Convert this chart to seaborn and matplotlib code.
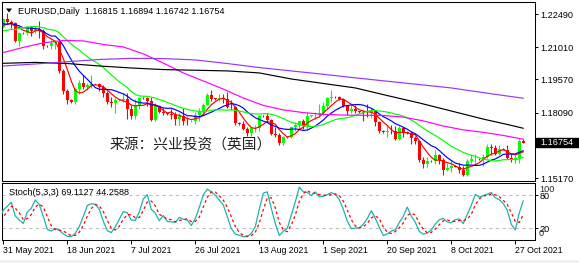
import numpy as np
import pandas as pd
import matplotlib
matplotlib.use("Agg")
import matplotlib.pyplot as plt
import matplotlib.transforms as mtransforms
from matplotlib.patches import Rectangle, Polygon
import seaborn as sns

# ---------------- data ----------------
symbol = "EURUSD,Daily"
first_day, last_day = "2021-05-09", "2021-10-29"   # daily bars incl. Sunday sessions (no Saturdays)
first_visible = "2021-05-31"

# one row per week: Sun, Mon, Tue, Wed, Thu, Fri
opens = [
    1.2165, 1.2162, 1.2130, 1.2150, 1.2075, 1.2080,
    1.2145, 1.2143, 1.2155, 1.2225, 1.2175, 1.2225,
    1.2180, 1.2185, 1.2215, 1.2250, 1.2192, 1.2193,
    1.2192, 1.2191, 1.2226, 1.2213, 1.2210, 1.2127,
    1.2166, 1.2163, 1.2190, 1.2172, 1.2180, 1.2175,
    1.2108, 1.2105, 1.2121, 1.2125, 1.1995, 1.1906,
    1.1863, 1.1858, 1.1915, 1.1940, 1.1925, 1.1930,
    1.1935, 1.1937, 1.1925, 1.1895, 1.1858, 1.1850,
    1.1865, 1.1866, 1.1868, 1.1823, 1.1792, 1.1845,
    1.1875, 1.1872, 1.1861, 1.1775, 1.1838, 1.1812,
    1.1806, 1.1803, 1.1800, 1.1780, 1.1795, 1.1771,
    1.1770, 1.1772, 1.1800, 1.1817, 1.1843, 1.1888,
    1.1871, 1.1870, 1.1872, 1.1868, 1.1835, 1.1832,
    1.1762, 1.1758, 1.1735, 1.1718, 1.1738, 1.1742,
    1.1795, 1.1792, 1.1778, 1.1712, 1.1710, 1.1675,
    1.1700, 1.1698, 1.1745, 1.1755, 1.1770, 1.1750,
    1.1795, 1.1797, 1.1800, 1.1808, 1.1838, 1.1875,
    1.1880, 1.1878, 1.1870, 1.1840, 1.1818, 1.1825,
    1.1814, 1.1812, 1.1808, 1.1805, 1.1815, 1.1765,
    1.1725, 1.1722, 1.1728, 1.1725, 1.1690, 1.1740,
    1.1720, 1.1718, 1.1695, 1.1683, 1.1597, 1.1580,
    1.1595, 1.1592, 1.1620, 1.1598, 1.1555, 1.1562,
    1.1570, 1.1568, 1.1553, 1.1530, 1.1595, 1.1600,
    1.1602, 1.1600, 1.1610, 1.1655, 1.1652, 1.1625,
    1.1645, 1.1643, 1.1608, 1.1600, 1.1605, 1.16815,
]
highs = [
    1.2170, 1.2180, 1.2180, 1.2160, 1.2100, 1.2150,
    1.2150, 1.2165, 1.2245, 1.2245, 1.2230, 1.2235,
    1.2190, 1.2225, 1.2265, 1.2260, 1.2225, 1.2200,
    1.2195, 1.2233, 1.2254, 1.2223, 1.2213, 1.2170,
    1.2170, 1.2194, 1.2197, 1.2195, 1.2218, 1.2183,
    1.2112, 1.2133, 1.2131, 1.2138, 1.2004, 1.1913,
    1.1868, 1.1918, 1.1954, 1.1975, 1.1940, 1.1975,
    1.1940, 1.1940, 1.1930, 1.1905, 1.1880, 1.1875,
    1.1870, 1.1895, 1.1895, 1.1843, 1.1868, 1.1880,
    1.1880, 1.1880, 1.1880, 1.1850, 1.1845, 1.1828,
    1.1810, 1.1826, 1.1812, 1.1805, 1.1828, 1.1791,
    1.1775, 1.1810, 1.1830, 1.1850, 1.1895, 1.1909,
    1.1875, 1.1892, 1.1892, 1.1900, 1.1865, 1.1838,
    1.1765, 1.1770, 1.1745, 1.1740, 1.1754, 1.1800,
    1.1798, 1.1805, 1.1780, 1.1745, 1.1720, 1.1705,
    1.1705, 1.1750, 1.1765, 1.1770, 1.1780, 1.1810,
    1.1800, 1.1810, 1.1846, 1.1857, 1.1880, 1.1909,
    1.1885, 1.1883, 1.1875, 1.1845, 1.1845, 1.1845,
    1.1818, 1.1822, 1.1846, 1.1830, 1.1820, 1.1773,
    1.1730, 1.1750, 1.1755, 1.1750, 1.1750, 1.1745,
    1.1725, 1.1725, 1.1705, 1.1685, 1.1610, 1.1613,
    1.1598, 1.1640, 1.1623, 1.1605, 1.1586, 1.1595,
    1.1575, 1.1582, 1.1570, 1.1600, 1.1624, 1.1624,
    1.1606, 1.1625, 1.1668, 1.1668, 1.1665, 1.1665,
    1.1650, 1.1665, 1.1625, 1.1620, 1.1692, 1.16894,
]
lows = [
    1.2158, 1.2125, 1.2120, 1.2052, 1.2050, 1.2075,
    1.2140, 1.2130, 1.2150, 1.2160, 1.2165, 1.2160,
    1.2175, 1.2175, 1.2210, 1.2180, 1.2175, 1.2135,
    1.2185, 1.2186, 1.2204, 1.2185, 1.2124, 1.2104,
    1.2160, 1.2157, 1.2150, 1.2165, 1.2144, 1.2093,
    1.2100, 1.2092, 1.2093, 1.1985, 1.1892, 1.1847,
    1.1850, 1.1848, 1.1890, 1.1913, 1.1910, 1.1920,
    1.1930, 1.1905, 1.1880, 1.1847, 1.1836, 1.1807,
    1.1860, 1.1855, 1.1782, 1.1780, 1.1781, 1.1823,
    1.1868, 1.1837, 1.1772, 1.1772, 1.1808, 1.1800,
    1.1798, 1.1780, 1.1753, 1.1752, 1.1752, 1.1755,
    1.1765, 1.1760, 1.1772, 1.1800, 1.1842, 1.1860,
    1.1865, 1.1859, 1.1853, 1.1828, 1.1820, 1.1752,
    1.1755, 1.1730, 1.1706, 1.1705, 1.1724, 1.1725,
    1.1788, 1.1765, 1.1708, 1.1700, 1.1665, 1.1664,
    1.1695, 1.1695, 1.1725, 1.1735, 1.1735, 1.1735,
    1.1790, 1.1780, 1.1790, 1.1800, 1.1830, 1.1858,
    1.1875, 1.1865, 1.1835, 1.1800, 1.1805, 1.1808,
    1.1808, 1.1770, 1.1790, 1.1783, 1.1750, 1.1720,
    1.1718, 1.1700, 1.1715, 1.1685, 1.1685, 1.1700,
    1.1712, 1.1670, 1.1670, 1.1590, 1.1563, 1.1565,
    1.1588, 1.1580, 1.1580, 1.1529, 1.1550, 1.1545,
    1.1565, 1.1540, 1.1524, 1.1528, 1.1585, 1.1580,
    1.1596, 1.1570, 1.1605, 1.1620, 1.1620, 1.1620,
    1.1640, 1.1600, 1.1590, 1.1585, 1.1586, 1.16742,
]
closes = [
    1.2162, 1.2130, 1.2150, 1.2075, 1.2080, 1.2145,
    1.2143, 1.2155, 1.2225, 1.2175, 1.2225, 1.2180,
    1.2185, 1.2215, 1.2250, 1.2192, 1.2193, 1.2192,
    1.2191, 1.2226, 1.2213, 1.2210, 1.2127, 1.2166,
    1.2163, 1.2190, 1.2172, 1.2180, 1.2175, 1.2108,
    1.2105, 1.2121, 1.2125, 1.1995, 1.1906, 1.1863,
    1.1858, 1.1915, 1.1940, 1.1925, 1.1930, 1.1935,
    1.1937, 1.1925, 1.1895, 1.1858, 1.1850, 1.1865,
    1.1866, 1.1868, 1.1823, 1.1792, 1.1845, 1.1875,
    1.1872, 1.1861, 1.1775, 1.1838, 1.1812, 1.1806,
    1.1803, 1.1800, 1.1780, 1.1795, 1.1771, 1.1770,
    1.1772, 1.1800, 1.1817, 1.1843, 1.1888, 1.1871,
    1.1870, 1.1872, 1.1868, 1.1835, 1.1832, 1.1762,
    1.1758, 1.1735, 1.1718, 1.1738, 1.1742, 1.1795,
    1.1792, 1.1778, 1.1712, 1.1710, 1.1675, 1.1700,
    1.1698, 1.1745, 1.1755, 1.1770, 1.1750, 1.1795,
    1.1797, 1.1800, 1.1808, 1.1838, 1.1875, 1.1880,
    1.1878, 1.1870, 1.1840, 1.1818, 1.1825, 1.1814,
    1.1812, 1.1808, 1.1805, 1.1815, 1.1765, 1.1725,
    1.1722, 1.1728, 1.1725, 1.1690, 1.1740, 1.1720,
    1.1718, 1.1695, 1.1683, 1.1597, 1.1580, 1.1595,
    1.1592, 1.1620, 1.1598, 1.1555, 1.1562, 1.1570,
    1.1568, 1.1553, 1.1530, 1.1595, 1.1600, 1.1602,
    1.1600, 1.1610, 1.1655, 1.1652, 1.1625, 1.1645,
    1.1643, 1.1608, 1.1600, 1.1605, 1.1681, 1.16754,
]

# fast moving averages (computed from closes)
ma_periods = [5, 10, 20]
ma_colors = ["#ff0000", "#0000ff", "#00ff00"]

# slow moving averages (date -> value)
ma_slow_dates = ["2021-05-31", "2021-06-09", "2021-06-18", "2021-06-28", "2021-07-07",
                 "2021-07-16", "2021-07-26", "2021-08-04", "2021-08-13", "2021-08-23",
                 "2021-09-01", "2021-09-10", "2021-09-20", "2021-09-29", "2021-10-08",
                 "2021-10-18", "2021-10-25", "2021-10-29"]
ma100_vals = [1.2029, 1.2033, 1.2028, 1.2017, 1.2008, 1.2001, 1.1998, 1.1995, 1.1986,
              1.1959, 1.1939, 1.1919, 1.1885, 1.1852, 1.1816, 1.1780, 1.1756, 1.1739]
ma200_vals = [1.2017, 1.2026, 1.2036, 1.2046, 1.2051, 1.2050, 1.2044, 1.2028, 1.2010,
              1.1995, 1.1980, 1.1964, 1.1949, 1.1934, 1.1919, 1.1898, 1.1883, 1.1873]
ma50_dates = ["2021-05-31", "2021-06-06", "2021-06-11", "2021-06-17", "2021-06-23",
              "2021-06-29", "2021-07-05", "2021-07-11", "2021-07-16", "2021-07-22",
              "2021-07-28", "2021-08-03", "2021-08-09", "2021-08-15", "2021-08-20",
              "2021-08-26", "2021-09-01", "2021-09-07", "2021-09-13", "2021-09-19",
              "2021-09-24", "2021-09-30", "2021-10-06", "2021-10-12", "2021-10-18",
              "2021-10-24", "2021-10-29"]
ma50_vals = [1.2077, 1.2100, 1.2120, 1.2131, 1.2129, 1.2113, 1.2102, 1.2071, 1.2030,
             1.1986, 1.1950, 1.1914, 1.1874, 1.1841, 1.1821, 1.1809, 1.1801, 1.1798,
             1.1797, 1.1796, 1.1789, 1.1772, 1.1749, 1.1732, 1.1721, 1.1707, 1.1690]
ma_slow_colors = {"ma50": "#ff00ff", "ma100": "#000000", "ma200": "#9933ff"}

stoch_k, stoch_d, stoch_slowing = 5, 3, 3
stoch_levels = [20, 80]
stoch_title = "Stoch(5,3,3) 69.1127 44.2588"

price_ticks = [1.22490, 1.21010, 1.19570, 1.18090, 1.15170]
date_ticks = ["2021-05-31", "2021-06-18", "2021-07-07", "2021-07-26", "2021-08-13",
              "2021-09-01", "2021-09-20", "2021-10-08", "2021-10-27"]
date_labels = ["31 May 2021", "18 Jun 2021", "7 Jul 2021", "26 Jul 2021", "13 Aug 2021",
               "1 Sep 2021", "20 Sep 2021", "8 Oct 2021", "27 Oct 2021"]
source_text = "来源：兴业投资（英国）"

# ---------------- table ----------------
days = pd.date_range(first_day, last_day)
days = days[days.weekday != 5]
df = pd.DataFrame({"date": days, "open": opens, "high": highs, "low": lows, "close": closes})
offset = int(np.where(days == pd.Timestamp(first_visible))[0][0])
df["bar"] = np.arange(len(df)) - offset
bar_of = dict(zip(df["date"].dt.strftime("%Y-%m-%d"), df["bar"]))

for p in ma_periods:
    df[f"sma{p}"] = df["close"].rolling(p).mean()
hh = df["high"].rolling(stoch_k).max()
ll = df["low"].rolling(stoch_k).min()
df["main"] = 100 * (df["close"] - ll).rolling(stoch_slowing).sum() / (hh - ll).rolling(stoch_slowing).sum()
df["signal"] = df["main"].rolling(stoch_d).mean()

vis = df[df["bar"] >= -1].copy()

# ---------------- layout (pixels) ----------------
W, H = 579, 263
PX = 0.0004463          # price per pixel
P_REF, Y_REF = 1.22490, 14.0
def rect(l, t, r, b):
    return [l / W, 1 - b / H, (r - l) / W, (b - t) / H]

sns.set_theme(style="white")
plt.rcParams["font.family"] = ["Liberation Sans", "DejaVu Sans"]

fig = plt.figure(figsize=(W / 100, H / 100), dpi=100)
fig.patch.set_facecolor("white")
ax = fig.add_axes(rect(2, 2, 535, 181))
axs = fig.add_axes(rect(2, 183, 535, 240))

x0 = (2 - 3.3) / 4
x1 = (535 - 3.3) / 4
for a in (ax, axs):
    a.set_xlim(x0, x1)
    a.set_facecolor("white")
    for s in a.spines.values():
        s.set_color("black")
        s.set_linewidth(0.75)
ax.set_ylim(P_REF - (181 - Y_REF) * PX, P_REF + (Y_REF - 2) * PX)
axs.set_ylim(-(240 - 239.3) / 0.55, (239.3 - 183) / 0.55)

# candles
cd = df[df["bar"] >= -1]
up = cd["close"] >= cd["open"]
cols = np.where(up, "#00ff00", "#ff0000")
ax.vlines(cd["bar"], cd["low"], cd["high"], colors=cols, linewidth=0.8, zorder=2)
body_lo = np.minimum(cd["open"], cd["close"])
body_h = np.maximum((cd["close"] - cd["open"]).abs(), 0.00028)
ax.bar(cd["bar"], body_h, bottom=body_lo, width=0.72, color=cols, linewidth=0, zorder=2)

# moving averages
for p, c in zip(ma_periods, ma_colors):
    sns.lineplot(x=vis["bar"].to_numpy(), y=vis[f"sma{p}"].to_numpy(), ax=ax, color=c,
                 linewidth=0.85, estimator=None, sort=False, zorder=3)
slow = [("ma50", ma50_dates, ma50_vals), ("ma100", ma_slow_dates, ma100_vals),
        ("ma200", ma_slow_dates, ma200_vals)]
for name, dts, vals in slow:
    xs = np.array([bar_of[d] for d in dts])
    sns.lineplot(x=xs, y=np.array(vals), ax=ax, color=ma_slow_colors[name],
                 linewidth=0.85, estimator=None, sort=False, zorder=3)

# price axis
ax.set_xticks([])
ax.yaxis.tick_right()
ax.set_yticks(price_ticks)
ax.set_yticklabels([f"{v:.5f}" for v in price_ticks])
ax.tick_params(axis="y", right=True, left=False, length=2.5, width=0.7, direction="out",
               pad=1.6, labelsize=6.6, colors="black")
ax.set_xlabel(""); ax.set_ylabel("")

# current price box
last = df.iloc[-1]
bt = mtransforms.blended_transform_factory(ax.transAxes, ax.transData)
ax.add_patch(Rectangle((1.0015, last["close"] - 4.6 * PX), 0.082, 9.6 * PX, transform=bt,
                       facecolor="black", edgecolor="black", clip_on=False, zorder=5))
ax.text((540 - 2) / 533, last["close"], f"{last['close']:.5f}", transform=bt, color="white",
        fontsize=6.6, va="center", ha="left", zorder=6, clip_on=False)

# header
fig.text(18 / W, 1 - 11 / H,
         f"{symbol}  {last['open']:.5f} {last['high']:.5f} {last['low']:.5f} {last['close']:.5f}",
         fontsize=6.6, va="center", ha="left", color="black")
fig.patches.append(Polygon([(6 / W, 1 - 8.5 / H), (12 / W, 1 - 8.5 / H), (9 / W, 1 - 12.5 / H)],
                           closed=True, facecolor="black", edgecolor="none",
                           transform=fig.transFigure))

# source text
fig.text(110 / W, 1 - 145 / H, source_text, fontsize=10.6, va="center", ha="left",
         color="#222222", family=["Noto Sans CJK SC", "DejaVu Sans"])

# stochastic
for lv in stoch_levels:
    axs.axhline(lv, color="#c0c0c0", linewidth=0.8, linestyle=(0, (3, 3)), zorder=1)
sns.lineplot(x=vis["bar"].to_numpy(), y=vis["main"].to_numpy(), ax=axs, color="#20b2aa",
             linewidth=0.9, estimator=None, sort=False, zorder=3)
sns.lineplot(x=vis["bar"].to_numpy(), y=vis["signal"].to_numpy(), ax=axs, color="#ff0000",
             linewidth=0.9, linestyle=(0, (2.2, 2.2)), estimator=None, sort=False, zorder=3)
axs.set_xlabel(""); axs.set_ylabel("")
axs.text(7 / 533, 1 - (192.3 - 183) / 57, stoch_title, transform=axs.transAxes,
         fontsize=6.6, va="center", ha="left", color="black")
axs.yaxis.tick_right()
axs.set_yticks(stoch_levels)
axs.set_yticklabels([str(v) for v in stoch_levels])
axs.tick_params(axis="y", right=True, left=False, length=2.5, width=0.7, direction="out",
                pad=1.0, labelsize=6.6, colors="black")
bts = mtransforms.blended_transform_factory(axs.transAxes, axs.transData)
axs.text((539 - 2) / 533, (239.3 - 190) / 0.55, "100", transform=bts, fontsize=6.6,
         va="center", ha="left", clip_on=False)
axs.text((539 - 2) / 533, (239.3 - 233.5) / 0.55, "0", transform=bts, fontsize=6.6,
         va="center", ha="left", clip_on=False)

tick_bars = [bar_of[d] for d in date_ticks]
axs.set_xticks(tick_bars)
axs.set_xticklabels(date_labels)
axs.tick_params(axis="x", bottom=True, length=3.0, width=0.7, direction="out", pad=1.0,
                labelsize=6.3, colors="black")
for t in axs.get_xticklabels():
    t.set_horizontalalignment("left")

# bottom strip
fig.patches.append(Rectangle((0, 0), 1, 3.5 / H, transform=fig.transFigure,
                             facecolor="#f0f0f0", edgecolor="none"))

fig.savefig("out.png", dpi=100, facecolor="white")
